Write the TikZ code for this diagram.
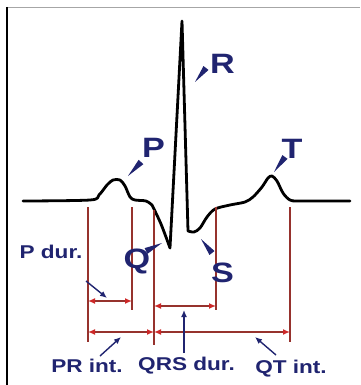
\documentclass[tikz,border=0pt]{standalone}
\usepackage{fontspec}
\usepackage{graphicx}
\setmainfont{Liberation Sans}
\usetikzlibrary{arrows.meta,calc}
\definecolor{navy}{RGB}{32,36,112}
\definecolor{redline}{RGB}{150,50,45}
\definecolor{redtip}{RGB}{205,40,40}
\newcommand{\wx}[1]{\scalebox{1.22}[1]{#1}}
\begin{document}
\begin{tikzpicture}[x=1pt,y=-1pt,
  ecg/.style={line width=2.8pt, line join=round, line cap=round},
  vline/.style={redline, line width=1.3pt},
  dimline/.style={redline, line width=1.4pt, {Latex[length=7pt,width=6pt,color=redtip]}-{Latex[length=7pt,width=6pt,color=redtip]}},
  ptr/.style={navy, line width=1.4pt, -{Latex[length=7pt,width=6pt]}},
  lab/.style={navy, font=\fontsize{18.5}{20}\selectfont\bfseries, inner sep=0pt, anchor=base},
  big/.style={navy, font=\fontsize{28}{30}\selectfont\bfseries, inner sep=0pt, anchor=base},
  wedge/.style={fill=navy}]
\useasboundingbox (0,0) rectangle (360,385);
\fill[white] (0,0) rectangle (360,385);
% frame
\draw[gray!70, line width=1pt] (6,7.5) -- (360,7.5);
\draw[black, line width=2pt] (7,7) -- (7,385);

% ECG trace
\draw[ecg] plot[smooth, tension=0.5] coordinates {(23,201) (90,200) (99,195) (107,185) (113,180) (120,180) (125,186) (130,197) (135,200) (146,201) (152,205)}
  -- plot[smooth, tension=0.5] coordinates {(152,205) (161,224) (170,248)}
  -- (182,21) -- (188,231)
  -- plot[smooth, tension=0.5] coordinates {(188,231) (194,232) (200,228) (207,217) (215,209) (230,205) (245,202) (253,197) (262,187) (268,178) (272,176) (277,181) (283,193) (290,200) (300,201) (350,201)};

% vertical reference lines
\coordinate (v1t) at (88,207);  \coordinate (v1b) at (88,342);
\coordinate (v2t) at (132,207); \coordinate (v2b) at (132,310);
\coordinate (v3t) at (154,210); \coordinate (v3b) at (154,345);
\coordinate (v4t) at (216,207); \coordinate (v4b) at (216,310);
\coordinate (v5t) at (290,207); \coordinate (v5b) at (290,342);
\foreach \i in {1,...,5} \draw[vline] (v\i t) -- (v\i b);

% dimension arrows
\coordinate (pd1) at (88,301);  \coordinate (pd2) at (132,301);
\coordinate (qd1) at (154,306); \coordinate (qd2) at (216,306);
\coordinate (pr1) at (88,332);  \coordinate (pr2) at (154,332);
\coordinate (qt1) at (154,332); \coordinate (qt2) at (290,332);
\draw[dimline] (pd1) -- (pd2);
\draw[dimline] (qd1) -- (qd2);
\draw[dimline] (pr1) -- (pr2);
\draw[dimline] (qt1) -- (qt2);

% labels
\node[lab] (pdur) at (51,258) {\wx{P dur.}};
\node[lab] (print) at (87,372) {\wx{PR int.}};
\node[lab] (qrsdur) at (186.5,370) {\wx{QRS dur.}};
\node[lab] (qtint) at (291,373) {\wx{QT int.}};

\node[big] (P) at (153.5,157) {\wx{P}};
\node[big] (R) at (222.5,74) {\wx{R}};
\node[big] (Q) at (137,268) {\wx{Q}};
\node[big] (S) at (222.5,282) {\wx{S}};
\node[big] (T) at (292,158) {\wx{T}};

% pointer arrows
\coordinate (a1s) at (86,281);  \coordinate (a1e) at (107,298);
\coordinate (a2s) at (100,356); \coordinate (a2e) at (121,337);
\coordinate (a3s) at (184,353); \coordinate (a3e) at (184,310);
\coordinate (a4s) at (276,355); \coordinate (a4e) at (255,337);
\draw[ptr] (a1s) -- (a1e);
\draw[ptr] (a2s) -- (a2e);
\draw[ptr] (a3s) -- (a3e);
\draw[ptr] (a4s) -- (a4e);

% wedges (apex toward trace)
\foreach \ax/\ay/\bx/\by in {128/176/141/162, 195/82/206/68, 162/243/146/251, 201/239/212/253, 274/172/285/157}{
  \coordinate (wa) at (\ax,\ay);
  \coordinate (wb) at (\bx,\by);
  \fill[wedge] (wa) -- ($(wb)!3.2pt!90:(wa)$) -- ($(wb)!3.2pt!-90:(wa)$) -- cycle;
}
\end{tikzpicture}
\end{document}
